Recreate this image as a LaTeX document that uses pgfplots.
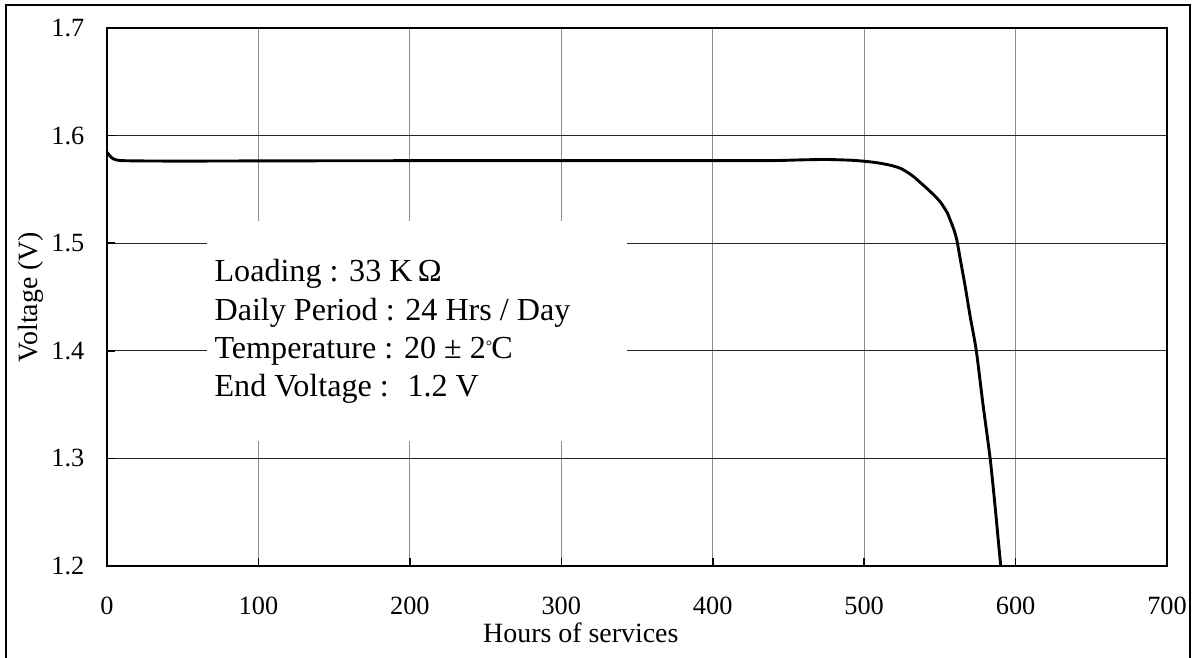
\documentclass[border=0pt]{standalone}
\usepackage{fontspec}
\setmainfont{Liberation Serif}
\usepackage{pgfplots}
\pgfplotsset{compat=1.18}
\begin{document}
\begin{tikzpicture}
	% page = 1195 x 657 px, 1 px = 0.38pt, axis origin at px (107,566)
	\path[use as bounding box] (-40.66pt,-34.58pt) rectangle (413.44pt,215.08pt);
	\begin{axis}[
	at={(0,0)}, anchor=south west,
	scale only axis,
	width=402.8pt, height=204.44pt,
	xmin=0, xmax=700, ymin=1.2, ymax=1.7,
	xtick={0,100,...,700},
	ytick={1.2,1.3,...,1.7},
	yticklabel style={/pgf/number format/fixed, /pgf/number format/precision=1, /pgf/number format/fixed zerofill,
		anchor=east, inner sep=0pt, xshift=-8.4pt},
	xticklabel style={anchor=base, yshift=-18.6pt},
	/pgf/number format/assume math mode=true,
	ticklabel style={font=\fontsize{10}{12}\selectfont},
	label style={font=\fontsize{10.6}{12}\selectfont},
	xlabel={Hours of services},
	ylabel={Voltage (V)},
	xlabel style={at={(axis description cs:0.447,-0.1431)}, anchor=base},
	ylabel style={at={(axis description cs:-0.066,0.5)}, anchor=base},
	tick pos=left,
	tick align=inside,
	major tick length=3pt,
	tick style={black, line width=0.6pt},
	axis line style={line width=0.6pt},
	grid=major,
	major x grid style={gray!90, line width=0.4pt},
	major y grid style={black!85, line width=0.4pt},
	]
	\fill[white] (axis cs:66,1.3162) rectangle (axis cs:343.4,1.5206);

	\addplot[black, line width=1.1pt, smooth, tension=0.4, mark=none]
	coordinates {
		(0,1.5845) (2,1.5810) (4,1.5785) (6,1.5775) (9,1.5768)
		(20,1.5765) (50,1.5763) (100,1.5765) (200,1.5767) (300,1.5767)
		(400,1.5767) (440,1.5768) (460,1.5775) (475,1.5778) (490,1.5772)
		(500,1.5762) (510,1.5745) (518,1.5722) (524,1.5696) (529,1.5655)
		(533,1.5615) (537,1.5565) (541.4,1.5510) (545,1.5462) (548,1.5420)
		(550.5,1.5380) (552.4,1.5340) (555,1.5280) (557,1.5210) (559.3,1.5125)
		(561.2,1.5030) (563.5,1.4850) (566.7,1.4600) (570,1.4320) (574,1.4007)
		(578.5,1.3500) (583.2,1.3000) (586.5,1.2550) (588.5,1.2250) (590.2,1.2000)
	};

	\begin{scope}[font=\fontsize{12.2}{15}\selectfont]
	\node[anchor=base west, inner sep=0pt] at (axis cs:70.7,1.4642) {Loading : 33 K$\,$Ω};
	\node[anchor=base west, inner sep=0pt] at (axis cs:70.7,1.4286) {Daily Period : 24 Hrs / Day};
	\node[anchor=base west, inner sep=0pt] at (axis cs:70.7,1.3933) {Temperature : 20 ± 2\raisebox{0.45ex}{\fontsize{6}{7}\selectfont°}\kern-0.02em C};
	\node[anchor=base west, inner sep=0pt] at (axis cs:70.7,1.3573) {End Voltage : \ 1.2 V};
	\end{scope}
	\end{axis}
	% outer frame, open at the bottom
	\draw[line width=0.8pt] (-38.38pt,-40pt) -- (-38.38pt,213.18pt) -- (411.54pt,213.18pt) -- (411.54pt,-40pt);
\end{tikzpicture}
\end{document}
